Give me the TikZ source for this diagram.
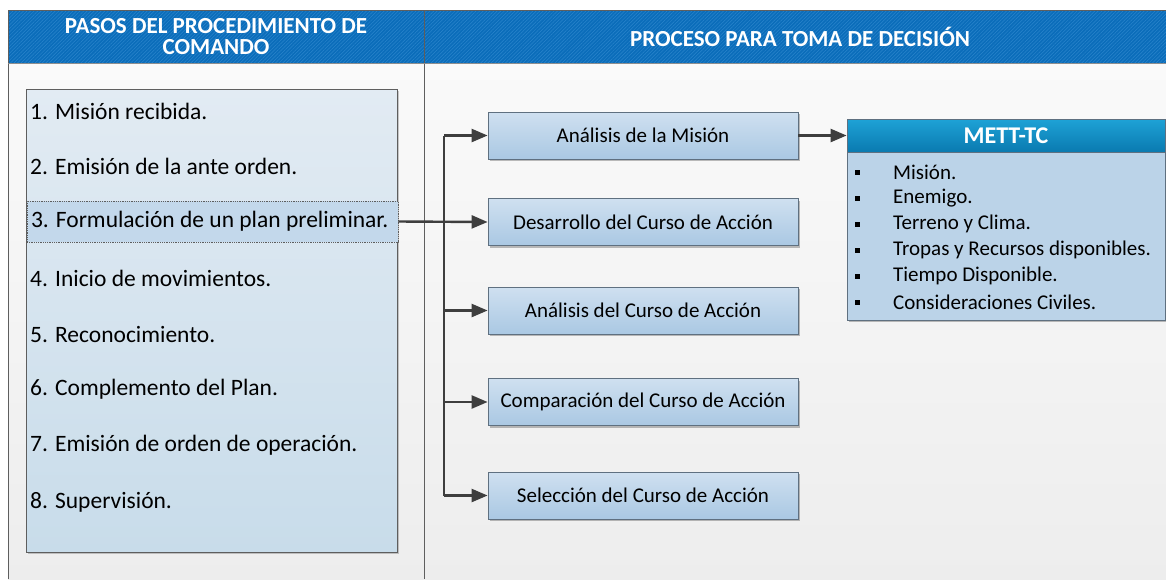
\documentclass[tikz,border=0pt]{standalone}
\usepackage{fontspec}
\setmainfont{Carlito}
\usetikzlibrary{arrows.meta,shadows,patterns.meta}
\definecolor{hdrblue}{HTML}{0B6DBA}
\definecolor{hdrstripe}{HTML}{2A85CC}
\definecolor{framegray}{HTML}{5E5E5E}
\definecolor{boxtop}{HTML}{CFE0F0}
\definecolor{boxbot}{HTML}{AAC8E3}
\definecolor{boxline}{HTML}{5F7080}
\definecolor{listtop}{HTML}{E2EBF3}
\definecolor{listbot}{HTML}{C8DCEA}
\definecolor{hilite}{HTML}{C3D8EB}
\definecolor{arrgray}{HTML}{3E3E3E}
\definecolor{metttop}{HTML}{1EA2D6}
\definecolor{mettbot}{HTML}{0A7AB0}
\definecolor{mettbody}{HTML}{BBD3E8}
\tikzset{
  frame/.style={draw=framegray, line width=0.9pt},
  hdrtext/.style={text=white, font=\fontsize{23}{21}\selectfont\bfseries, align=center, inner sep=0pt},
  stepitem/.style={anchor=west, font=\fontsize{23.5}{26}\selectfont, text=black, inner sep=0pt},
  procbox/.style={draw=boxline, line width=0.8pt, top color=boxtop, bottom color=boxbot,
    minimum width=310pt, minimum height=47pt, inner sep=0pt,
    font=\fontsize{21}{23}\selectfont,
    drop shadow={shadow xshift=2pt, shadow yshift=-2pt, opacity=0.25, fill=black}},
  arr/.style={draw=arrgray, line width=2.4pt, -{Triangle[length=16pt,width=13pt]}},
  trunkline/.style={draw=arrgray, line width=2.4pt},
  bul/.style={fill=black, minimum size=5pt, inner sep=0pt},
  mitem/.style={anchor=west, font=\fontsize{21}{23}\selectfont, inner sep=0pt},
}
\begin{document}
\begin{tikzpicture}[x=1pt,y=-1pt]
\useasboundingbox (0,0) rectangle (1166,579);
\fill[white] (0,0) rectangle (1166,579);
% body background
\shade[top color=white!98!black, bottom color=white!93!black] (8,63) rectangle (1166,579);
% header band
\fill[hdrblue] (8,10) rectangle (1166,63);
\path[pattern={Lines[angle=45,distance=2.5pt,line width=0.5pt]}, pattern color=hdrstripe] (8,10) rectangle (1166,63);
% frame
\draw[frame] (1166,10) -- (8,10) -- (8,579);
\draw[frame] (424,10) -- (424,579);
\draw[draw=framegray!70, line width=0.6pt] (8,63) -- (1166,63);
% header texts
\node[hdrtext] (h1) at (216,37) {PASOS DEL PROCEDIMIENTO DE\\COMANDO};
\node[hdrtext] (h2) at (800,37) {PROCESO PARA TOMA DE DECISIÓN};
% left list box
\node[draw=framegray, line width=0.8pt, top color=listtop, bottom color=listbot,
  minimum width=371pt, minimum height=463pt, inner sep=0pt,
  drop shadow={shadow xshift=2pt, shadow yshift=-2pt, opacity=0.2, fill=black}] (steps) at (211.5,320.5) {};
\node[draw=framegray, densely dotted, line width=0.8pt, fill=hilite, minimum width=371pt, minimum height=41pt,
  text width=363pt, align=flush left, inner xsep=4pt, inner ysep=0pt,
  font=\fontsize{23.5}{26}\selectfont] (i3) at (212.5,221.5) {3. Formulación de un plan preliminar.};
\node[stepitem] (i1) at (30,111) {1. Misión recibida.};
\node[stepitem] (i2) at (30,166) {2. Emisión de la ante orden.};
\node[stepitem] (i4) at (30,278) {4. Inicio de movimientos.};
\node[stepitem] (i5) at (30,334) {5. Reconocimiento.};
\node[stepitem] (i6) at (30,389) {6. Complemento del Plan.};
\node[stepitem] (i7) at (30,445) {7. Emisión de orden de operación.};
\node[stepitem] (i8) at (30,502) {8. Supervisión.};
% process boxes
\node[procbox] (b1) at (643,135.5) {Análisis de la Misión};
\node[procbox] (b2) at (643,222) {Desarrollo del Curso de Acción};
\node[procbox] (b3) at (643,310.5) {Análisis del Curso de Acción};
\node[procbox] (b4) at (643,402) {Comparación del Curso de Acción};
\node[procbox] (b5) at (643,495.5) {Selección del Curso de Acción};
% METT-TC
\node[draw=boxline, line width=0.8pt, fill=mettbody, minimum width=318pt, minimum height=201pt, inner sep=0pt,
  drop shadow={shadow xshift=2pt, shadow yshift=-2pt, opacity=0.25, fill=black}] (mett) at (1006,219.5) {};
\node[draw=boxline, line width=0.8pt, top color=metttop, bottom color=mettbot, minimum width=318pt, minimum height=33pt,
  inner sep=0pt, text=white, font=\fontsize{24}{26}\selectfont\bfseries] (mettT) at (1006,135.5) {METT-TC};
\node[bul] (q1) at (857,172) {};
\node[bul] (q2) at (857,198) {};
\node[bul] (q3) at (857,224) {};
\node[bul] (q4) at (857,250) {};
\node[bul] (q5) at (857,276) {};
\node[bul] (q6) at (857,302) {};
\node[mitem] (m1) at (893,172) {Misión.};
\node[mitem] (m2) at (893,198) {Enemigo.};
\node[mitem] (m3) at (893,224) {Terreno y Clima.};
\node[mitem] (m4) at (893,250) {Tropas y Recursos disponibles.};
\node[mitem] (m5) at (893,276) {Tiempo Disponible.};
\node[mitem] (m6) at (893,302) {Consideraciones Civiles.};
% connectors
\coordinate (tt) at (444,135.5);
\coordinate (tb) at (444,495.5);
\draw[trunkline] (tt) -- (tb);
\draw[arr] (tt) -- (b1.west);
\draw[arr] (i3.east) -- (b2.west);
\draw[arr] (b3.west -| tt) -- (b3.west);
\draw[arr] (b4.west -| tt) -- (b4.west);
\draw[arr] (tb) -- (b5.west);
\draw[arr] (b1.east) -- (mettT.west);
\end{tikzpicture}
\end{document}
